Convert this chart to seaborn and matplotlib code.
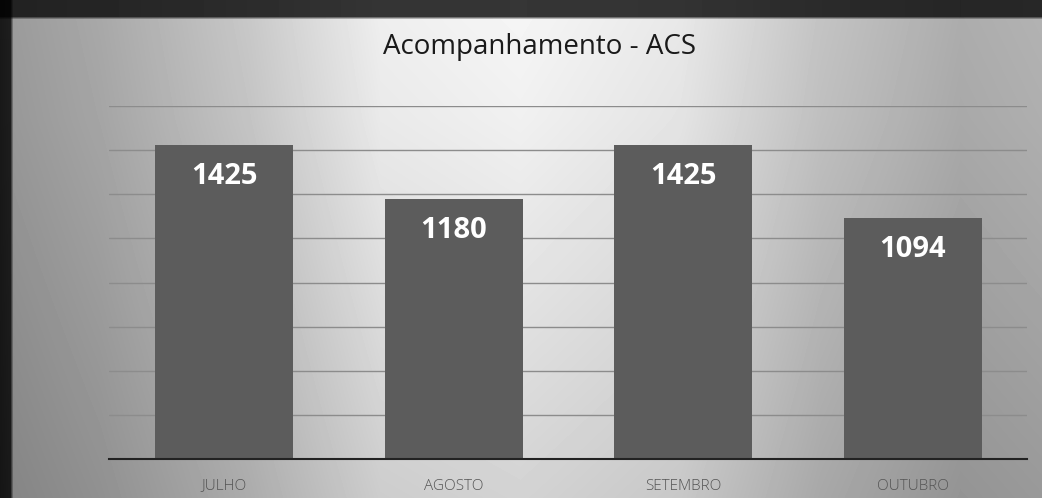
import numpy as np
import pandas as pd
import matplotlib
matplotlib.use("Agg")
import matplotlib.pyplot as plt
import seaborn as sns

# data
months = ["JULHO", "AGOSTO", "SETEMBRO", "OUTUBRO"]
totals = [1425, 1180, 1425, 1094]
title = "Acompanhamento - ACS"

df = pd.DataFrame({"mes": months, "total": totals})

sns.set_theme(style="white")
plt.rcParams["font.family"] = ["Open Sans", "DejaVu Sans"]

W, H = 1042, 498
fig = plt.figure(figsize=(W / 100, H / 100), dpi=100)

# photocopy-like background (grey with a lighter middle, dark edges)
bg = fig.add_axes([0, 0, 1, 1], zorder=-10)
xs = np.arange(W)
prof = np.interp(xs, [0, 10, 13, 100, 250, 380, 520, 680, 820, 960, 1042],
                 [25, 30, 155, 168, 200, 238, 245, 232, 195, 172, 178])
ys = np.arange(H)
vert = np.interp(ys, [0, 17, 20, 120, 498], [0.22, 0.22, 1.0, 0.98, 0.86])
img = np.outer(vert, prof) / 255.0
bg.imshow(img, cmap="gray", vmin=0, vmax=1, aspect="auto",
          extent=[0, 1, 0, 1], origin="upper", interpolation="nearest")
bg.set_axis_off()

ax = fig.add_axes([0.105, 0.078, 0.881, 0.709])
ax.set_facecolor("none")
sns.barplot(data=df, x="mes", y="total", color="#5c5c5c", width=0.6,
            saturation=1, linewidth=0, ax=ax, zorder=3)

ax.set_ylim(0, 1600)
ax.set_yticks(np.arange(0, 1601, 200))
ax.yaxis.grid(True, color="#8c8c8c", linewidth=1)
ax.set_axisbelow(True)
ax.set_yticklabels([])
ax.tick_params(axis="both", length=0)
ax.set_xlabel("")
ax.set_ylabel("")
for s in ["top", "right", "left"]:
    ax.spines[s].set_visible(False)
ax.spines["bottom"].set_color("#222222")
ax.spines["bottom"].set_linewidth(1.5)
ax.spines["bottom"].set_zorder(4)

for lbl in ax.get_xticklabels():
    lbl.set_fontsize(11)
    lbl.set_color("#555555")
    lbl.set_fontweight("light")
ax.tick_params(axis="x", pad=14)

for p, v in zip(ax.patches, totals):
    ax.annotate(str(v), (p.get_x() + p.get_width() / 2, p.get_height()),
                xytext=(0, -23), textcoords="offset points",
                ha="center", va="center", color="white",
                fontsize=21, fontweight="bold", zorder=5)

fig.text(0.518, 0.905, title, ha="center", va="center", fontsize=20,
         color="#1a1a1a")

fig.savefig("out.png", dpi=100)
